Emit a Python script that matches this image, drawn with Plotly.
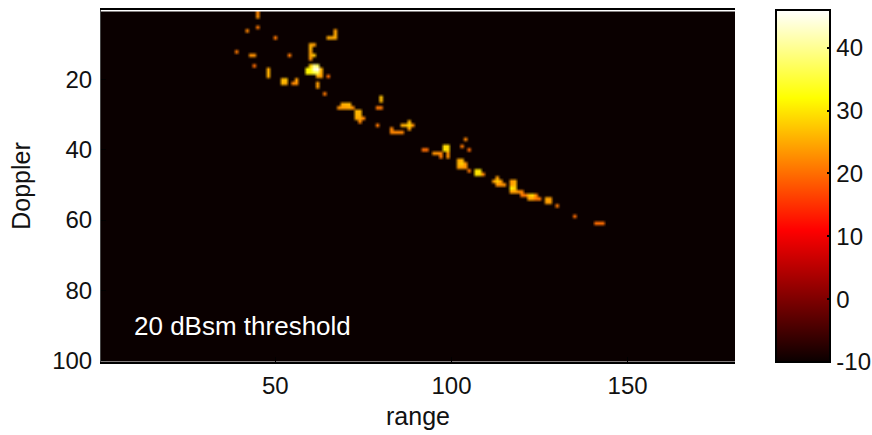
import numpy as np
import plotly.graph_objects as go

# sparse detections above the 20 dBsm threshold
range_cells = [45,45,42,45,50,39,43,44,54,44,48,48,48,52,53,52,53,55,56,56,
    65,66,67,67,67,60,60,60,60,60,61,61,
    60,61,62,59,60,61,62,63,59,60,61,62,63,62,63,65,62,62,64,
    69,70,71,68,69,70,71,72,73,74,73,74,73,74,75,74,80,80,79,80,79,
    83,83,84,85,86,86,87,88,89,88,88,
    104,92,93,103,105,95,96,97,97,98,99,98,99,99,99,
    102,103,102,103,104,102,103,104,105,107,108,107,108,109,
    113,112,113,114,113,114,115,117,118,117,118,117,118,117,118,119,120,
    120,121,122,123,124,122,123,124,125,127,128,127,128,130,135,141,142,143]
doppler_cells = [1,2,6,5,8,12,13,13,13,16,17,18,19,20,20,21,21,21,21,20,
    8,8,8,7,6,10,11,12,13,14,10,13,
    16,16,16,17,17,17,17,17,18,18,18,18,18,19,19,19,21,22,24,
    27,27,27,28,28,28,28,28,29,29,30,30,31,31,31,32,25,26,28,28,33,
    34,35,35,35,35,33,33,33,33,32,34,
    37,40,40,39,40,41,41,41,42,39,39,40,40,41,42,
    43,43,44,44,44,45,45,45,46,46,46,47,47,47,
    48,49,49,49,50,50,50,49,49,50,50,51,51,52,52,52,52,
    53,53,53,53,53,54,54,54,54,54,54,55,55,56,59,61,61,61]
power_cells = [22,23,22,21,21,21,23,23,21,20,25,26,25,26,27,26,25,22,23,24,
    25,25,25,25,24,25,26,24,25,23,24,27,
    28,40,37,31,32,44,46,26,31,31,35,36,25,25,24,20,24,24,21,
    25,26,26,23,24,24,25,23,26,26,26,26,25,25,22,22,27,26,21,21,21,
    22,22,22,22,22,25,26,29,23,26,24,
    22,20,20,21,20,23,23,22,21,29,29,30,29,23,23,
    25,26,26,28,23,24,24,23,21,30,30,30,29,22,
    24,24,28,24,23,23,23,24,25,24,26,31,28,24,24,23,22,
    21,21,27,29,22,24,24,21,21,25,24,24,24,21,20,20,20,20]
x_ticks = [50, 100, 150]
y_ticks = [20, 40, 60, 80, 100]
cbar_ticks = [-10, 0, 10, 20, 30, 40]
cbar_labels = ["-10", "0", "10", "20", "30", "40"]

z = np.full((100, 180), -10.0)
for r, d, p in zip(range_cells, doppler_cells, power_cells):
    z[d - 1, r - 1] = p

W, H = 872, 435
L, R, T, B = 101, 735, 10, 362
CL, CR = 775.5, 829
FONT = "Liberation Sans"
hot = [[0, "#0a0000"], [0.375, "#ff0000"], [0.75, "#ffff00"], [1, "#ffffff"]]

fig = go.Figure()
fig.add_trace(go.Heatmap(
    z=z, x=np.arange(1, 181), y=np.arange(1, 101), zmin=-10, zmax=46, zsmooth="fast",
    colorscale=hot, hoverinfo="skip",
    colorbar=dict(x=CL / W, xanchor="left", xpad=0, y=1 - B / H, yanchor="bottom", ypad=0,
                  len=(B - T) / H, lenmode="fraction", thickness=CR - CL, thicknessmode="pixels",
                  outlinecolor="black", outlinewidth=2, tickvals=cbar_ticks, ticktext=cbar_labels,
                  ticks="inside", ticklen=4, tickwidth=2, tickcolor="black",
                  tickfont=dict(family=FONT, size=24, color="#111111")),
))
# invisible trace to carry the left-hand tick marks on the colour bar
fig.add_trace(go.Scatter(x=[0], y=[-10], xaxis="x2", yaxis="y2", mode="none",
                         showlegend=False, hoverinfo="skip"))
fig.update_layout(
    width=W, height=H, paper_bgcolor="white", plot_bgcolor="white",
    margin=dict(l=0, r=0, t=0, b=0, autoexpand=False),
    font=dict(family=FONT, size=24, color="#111111"),
    xaxis=dict(domain=[L / W, R / W], range=[0.5, 180.5], tickvals=x_ticks, ticks="inside", ticklen=5,
               tickwidth=1, tickcolor="black", showline=True, linewidth=2, linecolor="black", mirror=True,
               showgrid=False, zeroline=False, anchor="y", ticklabelstandoff=1,
               title=dict(text="range", font=dict(size=25), standoff=10)),
    yaxis=dict(domain=[1 - B / H, 1 - T / H], range=[100.5, 0.07], tickvals=y_ticks, ticks="inside", ticklen=5,
               tickwidth=1, tickcolor="black", showline=True, linewidth=1, linecolor="#444444",
               showgrid=False, zeroline=False, anchor="x", ticklabelstandoff=3,
               title=dict(text="Doppler", font=dict(size=25), standoff=14)),
    xaxis2=dict(domain=[CL / W, CR / W], range=[0, 1], visible=False, anchor="y2"),
    yaxis2=dict(domain=[1 - B / H, 1 - T / H], range=[-10, 46], tickvals=cbar_ticks, ticks="inside",
                ticklen=4, tickwidth=2, tickcolor="black", showticklabels=False, showline=False,
                showgrid=False, zeroline=False, anchor="x2"),
    annotations=[dict(text="20 dBsm threshold", x=9.2, y=90.2, xref="x", yref="y", xanchor="left",
                      yanchor="middle", showarrow=False, font=dict(family=FONT, size=26, color="white"))],
)
fig.write_html("out.html", config={"displayModeBar": False},
               post_script="document.body.style.margin='0';")
